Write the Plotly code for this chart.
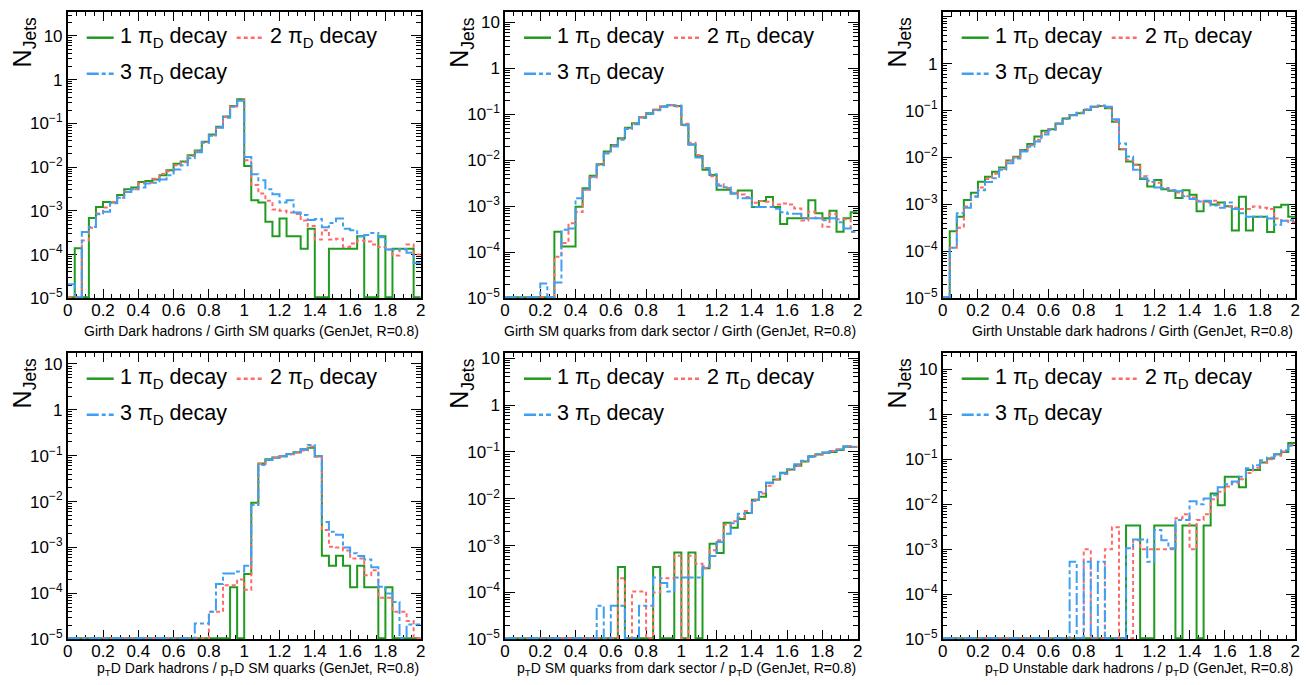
import numpy as np
import plotly.graph_objects as go

# ---------------- data (normalised jet fractions per bin, 50 bins in [0, 2]) ----------------
bin_edges = np.linspace(0.0, 2.0, 51)

series_names = ["1 π<sub>D</sub> decay", "2 π<sub>D</sub> decay", "3 π<sub>D</sub> decay"]

x_titles = [
    "Girth Dark hadrons / Girth SM quarks (GenJet, R=0.8)",
    "Girth SM quarks from dark sector / Girth (GenJet, R=0.8)",
    "Girth Unstable dark hadrons / Girth (GenJet, R=0.8)",
    "p<sub>T</sub>D Dark hadrons / p<sub>T</sub>D SM quarks (GenJet, R=0.8)",
    "p<sub>T</sub>D SM quarks from dark sector / p<sub>T</sub>D (GenJet, R=0.8)",
    "p<sub>T</sub>D Unstable dark hadrons / p<sub>T</sub>D (GenJet, R=0.8)",
]

x_tick_vals = [0, 0.2, 0.4, 0.6, 0.8, 1.0, 1.2, 1.4, 1.6, 1.8, 2.0]
x_tick_text = ["0", "0.2", "0.4", "0.6", "0.8", "1", "1.2", "1.4", "1.6", "1.8", "2"]
y_tick_vals = [1e-5, 1e-4, 1e-3, 1e-2, 1e-1, 1, 10]
y_tick_text = ["10<sup>−5</sup>", "10<sup>−4</sup>", "10<sup>−3</sup>", "10<sup>−2</sup>",
               "10<sup>−1</sup>", "1", "10"]

# Panel 1: Girth Dark hadrons / Girth SM quarks
girth_dh_1pi = [0, 1.4e-4, 0, 6.9e-4, 1.23e-3, 1.6e-3, 1.55e-3, 2.3e-3, 3.1e-3, 3.4e-3,
                4.6e-3, 4.8e-3, 5.2e-3, 6.5e-3, 8.5e-3, 1.2e-2, 1.35e-2, 1.87e-2, 2.4e-2, 3.8e-2,
                5.6e-2, 8.4e-2, 0.143, 0.25, 0.355, 1.06e-2, 1.75e-3, 1.55e-3, 5.6e-4, 2.64e-4,
                6.7e-4, 2.64e-4, 2.64e-4, 1.36e-4, 3.9e-4, 0, 0, 1.36e-4, 1.36e-4, 1.36e-4,
                1.36e-4, 2.64e-4, 0, 0, 2.64e-4, 0, 1.36e-4, 1.36e-4, 1.36e-4, 0]
girth_dh_2pi = [0, 0, 2.1e-4, 4.1e-4, 8.7e-4, 1.2e-3, 1.6e-3, 2.0e-3, 2.75e-3, 3.1e-3,
                4.2e-3, 4.4e-3, 5.4e-3, 7.0e-3, 8.0e-3, 1.1e-2, 1.3e-2, 1.8e-2, 2.3e-2, 3.7e-2,
                5.3e-2, 8.2e-2, 0.14, 0.245, 0.34, 1.44e-2, 3.9e-3, 2.5e-3, 1.7e-3, 1.07e-3,
                1.0e-3, 9.2e-4, 8.5e-4, 6.0e-4, 4.5e-4, 2.2e-4, 3.6e-4, 2.2e-4, 2.3e-4, 1.5e-4,
                1.8e-4, 2.1e-4, 2.0e-4, 1.7e-4, 1.5e-4, 1.3e-4, 9.5e-5, 1.3e-4, 1.7e-4, 1.0e-4]
girth_dh_3pi = [2.1e-5, 0, 3.3e-4, 4.3e-4, 8.4e-4, 9.5e-4, 1.5e-3, 2.0e-3, 2.7e-3, 3.1e-3,
                3.4e-3, 4.2e-3, 4.4e-3, 5.2e-3, 6.5e-3, 8.8e-3, 1.1e-2, 1.6e-2, 2.2e-2, 3.6e-2,
                5.2e-2, 8.0e-2, 0.135, 0.24, 0.33, 1.7e-2, 6.9e-3, 5.0e-3, 3.1e-3, 2.4e-3,
                1.55e-3, 1.75e-3, 9.2e-4, 8.0e-4, 6.2e-4, 6.5e-4, 4.2e-4, 5.3e-4, 6.7e-4, 3.9e-4,
                3.6e-4, 2.64e-4, 2.8e-4, 3.1e-4, 2.5e-4, 1.3e-4, 1.3e-4, 1.35e-4, 1.1e-4, 6.4e-5]

# Panel 2: Girth SM quarks from dark sector / Girth
girth_smq_1pi = [0, 0, 0, 0, 0, 0, 0, 2.8e-4, 1.33e-4, 1.33e-4,
                 9.8e-4, 2.46e-3, 4.6e-3, 8.2e-3, 1.55e-2, 2.16e-2, 3.0e-2, 5.1e-2, 6.4e-2, 8.6e-2,
                 0.105, 0.125, 0.147, 0.158, 0.152, 5.9e-2, 2.2e-2, 1.24e-2, 6.2e-3, 4.8e-3,
                 2.3e-3, 2.3e-3, 1.9e-3, 2.2e-3, 2.2e-3, 9.6e-4, 1.3e-3, 1.6e-3, 9.6e-4, 4.1e-4,
                 5.5e-4, 5.5e-4, 5.5e-4, 1.35e-3, 7.1e-4, 5.5e-4, 8.0e-4, 2.8e-4, 5.5e-4, 7.4e-4]
girth_smq_2pi = [0, 0, 0, 0, 0, 0, 0, 8e-5, 1.6e-4, 4.3e-4,
                 7.5e-4, 2.3e-3, 4.2e-3, 8.0e-3, 1.45e-2, 2.1e-2, 2.9e-2, 4.9e-2, 6.3e-2, 8.5e-2,
                 0.103, 0.125, 0.15, 0.16, 0.148, 6.2e-2, 2.4e-2, 1.3e-2, 6.8e-3, 4.5e-3,
                 3.0e-3, 2.5e-3, 2.0e-3, 1.8e-3, 1.6e-3, 1.2e-3, 1.3e-3, 1.25e-3, 1.1e-3, 1.15e-3,
                 1.1e-3, 9.0e-4, 4.9e-4, 7.6e-4, 5.5e-4, 3.6e-4, 6.9e-4, 5.2e-4, 5.2e-4, 2.8e-4]
girth_smq_3pi = [0, 0, 0, 0, 0, 2.1e-5, 0, 2.2e-5, 3.1e-4, 3.3e-4,
                 1.5e-3, 2.3e-3, 4.4e-3, 7.8e-3, 1.4e-2, 2.0e-2, 2.8e-2, 4.8e-2, 6.1e-2, 8.3e-2,
                 0.102, 0.122, 0.145, 0.16, 0.155, 5.8e-2, 2.2e-2, 1.15e-2, 6.8e-3, 5.0e-3,
                 2.8e-3, 2.6e-3, 1.9e-3, 1.5e-3, 1.5e-3, 9.6e-4, 9.6e-4, 9.6e-4, 8.8e-4, 7.4e-4,
                 6.9e-4, 6.9e-4, 5.5e-4, 5.5e-4, 5.5e-4, 5.0e-4, 5.5e-4, 4.5e-4, 3.3e-4, 2.8e-4]

# Panel 3: Girth Unstable dark hadrons / Girth
girth_udh_1pi = [0, 2.7e-4, 5.5e-4, 1.24e-3, 1.78e-3, 3.06e-3, 3.9e-3, 5.0e-3, 6.1e-3, 8.6e-3,
                 1.04e-2, 1.45e-2, 1.95e-2, 2.8e-2, 3.7e-2, 4.0e-2, 5.3e-2, 6.8e-2, 8.1e-2, 8.8e-2,
                 0.103, 0.12, 0.125, 0.112, 5.8e-2, 1.5e-2, 8.2e-3, 7.0e-3, 3.5e-3, 2.4e-3,
                 3.3e-3, 2.1e-3, 1.95e-3, 1.38e-3, 2.0e-3, 1.6e-3, 7.2e-4, 1.15e-3, 1.0e-3, 1.1e-3,
                 9.2e-4, 2.8e-4, 1.45e-3, 2.8e-4, 5.5e-4, 5.5e-4, 2.6e-4, 8.7e-4, 9.8e-4, 5.5e-4]
girth_udh_2pi = [0, 1.2e-4, 3.2e-4, 9.0e-4, 1.5e-3, 2.3e-3, 3.5e-3, 4.5e-3, 5.7e-3, 8.5e-3,
                 1.0e-2, 1.4e-2, 1.8e-2, 2.4e-2, 3.4e-2, 4.0e-2, 5.3e-2, 6.8e-2, 8.0e-2, 9.0e-2,
                 0.105, 0.12, 0.125, 0.115, 6.0e-2, 1.5e-2, 9.0e-3, 7.0e-3, 4.0e-3, 3.0e-3,
                 2.9e-3, 2.2e-3, 2.0e-3, 1.8e-3, 1.5e-3, 1.4e-3, 1.2e-3, 1.1e-3, 1.2e-3, 1.0e-3,
                 9.0e-4, 8.5e-4, 8.0e-4, 8.0e-4, 9.0e-4, 8.5e-4, 8.0e-4, 5.0e-4, 4.5e-4, 4.2e-4]
girth_udh_3pi = [0, 1.2e-4, 6.5e-4, 8.5e-4, 1.45e-3, 2.0e-3, 3.0e-3, 3.6e-3, 5.5e-3, 7.5e-3,
                 9.5e-3, 1.35e-2, 1.7e-2, 2.2e-2, 3.1e-2, 3.9e-2, 5.2e-2, 6.7e-2, 8.0e-2, 9.0e-2,
                 0.105, 0.12, 0.128, 0.12, 6.5e-2, 2.0e-2, 1.05e-2, 5.5e-3, 3.6e-3, 3.2e-3,
                 2.3e-3, 2.2e-3, 2.0e-3, 1.9e-3, 1.5e-3, 1.3e-3, 1.15e-3, 1.2e-3, 9.5e-4, 8.5e-4,
                 1.1e-3, 8.0e-4, 6.5e-4, 5.5e-4, 5.5e-4, 5.5e-4, 5.0e-4, 3.7e-4, 4.5e-4, 4.6e-4]

# Panel 4: pTD Dark hadrons / pTD SM quarks
ptd_dh_1pi = [0, 0, 0, 0, 0, 0, 0, 0, 0, 0,
              0, 0, 0, 0, 0, 0, 0, 0, 0, 0,
              0, 0, 0, 1.36e-4, 0, 2.65e-4, 9.5e-3, 6.8e-2, 8.4e-2, 9.2e-2,
              9.8e-2, 0.109, 0.12, 0.135, 0.15, 9.8e-2, 6.6e-4, 4.0e-4, 6.6e-4, 4.0e-4,
              1.36e-4, 4.0e-4, 1.36e-4, 1.36e-4, 0, 1.36e-4, 0, 0, 0, 0]
ptd_dh_2pi = [0, 0, 0, 0, 0, 0, 0, 0, 0, 0,
              0, 0, 0, 0, 0, 0, 0, 0, 0, 0,
              4.0e-5, 4.0e-5, 1.5e-4, 1.5e-4, 2.0e-4, 1.2e-4, 8.4e-3, 6.6e-2, 8.2e-2, 9.1e-2,
              9.8e-2, 0.108, 0.118, 0.13, 0.16, 9.5e-2, 2.4e-3, 1.04e-3, 1.0e-3, 8.6e-4,
              5.8e-4, 5.8e-4, 2.5e-4, 3.2e-4, 8e-5, 8e-5, 4e-5, 4e-5, 2.5e-5, 0]
ptd_dh_3pi = [0, 0, 0, 0, 0, 0, 0, 0, 0, 0,
              0, 0, 0, 0, 0, 0, 0, 0, 2.2e-5, 2.2e-5,
              4.0e-5, 1.6e-4, 2.7e-4, 2.7e-4, 3.0e-4, 4.0e-4, 8.4e-3, 6.3e-2, 8.1e-2, 9.0e-2,
              9.8e-2, 0.108, 0.118, 0.14, 0.171, 9.8e-2, 3.6e-3, 2.2e-3, 1.9e-3, 1.0e-3,
              7.5e-4, 6.5e-4, 5.5e-4, 3.7e-4, 1.4e-4, 1.0e-4, 6.5e-5, 0, 2.1e-5, 2.1e-5]

# Panel 5: pTD SM quarks from dark sector / pTD
ptd_smq_1pi = [0, 0, 0, 0, 0, 0, 0, 0, 0, 0,
               0, 0, 0, 0, 0, 0, 3.5e-4, 0, 0, 0,
               0, 3.5e-4, 0, 0, 7.1e-4, 0, 7.1e-4, 0, 3.3e-4, 1.1e-3,
               7.0e-4, 3.1e-3, 2.4e-3, 3.7e-3, 5.0e-3, 9.6e-3, 1.1e-2, 2.2e-2, 2.6e-2, 3.6e-2,
               4.2e-2, 5.1e-2, 6.3e-2, 8.1e-2, 8.8e-2, 9.6e-2, 0.1, 0.11, 0.13, 0.128]
ptd_smq_2pi = [0, 0, 0, 0, 0, 0, 0, 0, 0, 0,
               0, 0, 0, 0, 0, 0, 2.0e-4, 0, 1.05e-4, 1.05e-4,
               0, 1.0e-4, 2.0e-4, 2.0e-4, 6.1e-4, 0, 6.1e-4, 4.1e-4, 3.3e-4, 8e-4,
               1.3e-3, 2.8e-3, 3.3e-3, 4.0e-3, 5.5e-3, 9.5e-3, 1.3e-2, 1.9e-2, 2.6e-2, 3.4e-2,
               4.1e-2, 5.0e-2, 6.4e-2, 7.8e-2, 8.8e-2, 9.6e-2, 0.105, 0.115, 0.135, 0.13]
ptd_smq_3pi = [0, 0, 0, 0, 0, 0, 0, 0, 0, 0,
               0, 0, 0, 5.2e-5, 0, 5.2e-5, 5.2e-5, 0, 0, 5.2e-5,
               5.2e-5, 2.1e-4, 1.6e-4, 1.05e-4, 2.1e-4, 2.1e-4, 2.1e-4, 2.1e-4, 3.6e-4, 6.0e-4,
               1.2e-3, 1.8e-3, 3.0e-3, 4.8e-3, 5.0e-3, 9.0e-3, 1.4e-2, 2.2e-2, 3.0e-2, 3.5e-2,
               4.3e-2, 5.5e-2, 6.5e-2, 7.9e-2, 9.0e-2, 9.8e-2, 0.105, 0.115, 0.133, 0.128]

# Panel 6: pTD Unstable dark hadrons / pTD
ptd_udh_1pi = [0, 0, 0, 0, 0, 0, 0, 0, 0, 0,
               0, 0, 0, 0, 0, 0, 0, 0, 0, 0,
               0, 0, 0, 0, 0, 0, 3.4e-3, 3.4e-3, 0, 0,
               3.4e-3, 3.4e-3, 3.4e-3, 0, 3.4e-3, 3.4e-3, 0, 3.4e-3, 1.75e-2, 9.5e-3,
               4.1e-2, 4.1e-2, 2.4e-2, 5.8e-2, 5.8e-2, 8.5e-2, 0.105, 0.13, 0.145, 0.23]
ptd_udh_2pi = [0, 0, 0, 0, 0, 0, 0, 0, 0, 0,
               0, 0, 0, 0, 0, 0, 0, 0, 0, 0,
               1.0e-3, 0, 0, 1.0e-3, 3.1e-3, 0, 0, 1.6e-3, 1.0e-3, 1.0e-3,
               1.0e-3, 1.0e-3, 1.0e-3, 4.9e-3, 6.0e-3, 1.0e-3, 4.5e-3, 6.0e-3, 1.3e-2, 1.9e-2,
               2.5e-2, 3.0e-2, 3.6e-2, 5.0e-2, 6.5e-2, 8.5e-2, 0.1, 0.12, 0.15, 0.21]
ptd_udh_3pi = [0, 0, 0, 0, 0, 0, 0, 0, 0, 0,
               0, 0, 0, 0, 0, 0, 0, 0, 5.3e-4, 0,
               5.3e-4, 0, 5.3e-4, 0, 0, 0, 1.05e-3, 1.66e-3, 1.66e-3, 5.3e-4,
               2.7e-3, 1.6e-3, 1.05e-3, 4.5e-3, 4.5e-3, 1.17e-2, 1.0e-2, 1.35e-2, 1.6e-2, 2.4e-2,
               2.8e-2, 3.2e-2, 4.1e-2, 6.3e-2, 7.4e-2, 9.6e-2, 0.11, 0.13, 0.16, 0.2]

panels = [
    (girth_dh_1pi, girth_dh_2pi, girth_dh_3pi),
    (girth_smq_1pi, girth_smq_2pi, girth_smq_3pi),
    (girth_udh_1pi, girth_udh_2pi, girth_udh_3pi),
    (ptd_dh_1pi, ptd_dh_2pi, ptd_dh_3pi),
    (ptd_smq_1pi, ptd_smq_2pi, ptd_smq_3pi),
    (ptd_udh_1pi, ptd_udh_2pi, ptd_udh_3pi),
]

# ---------------- style ----------------
# The page body keeps the browser's default 8 px margin, so the figure is
# 16 px smaller than the window and every position is shifted by 8 px.
PAGE_MARGIN = 8
W, H = 1311 - 2 * PAGE_MARGIN, 685 - 2 * PAGE_MARGIN
colors = ["#1f9b1f", "#ff6a6a", "#3f9ff2"]
dashes = ["solid", "4px,3px", "12px,3px,4px,3px"]
FLOOR = 1.05e-5  # zero bins drawn on the lower frame, as ROOT does
y_top_log = [1.555, 1.23, 1.107, 1.246, 1.12, 1.37]

# frame positions in window pixels
col_x = [(67.7, 420.7), (505.0, 857.7), (942.7, 1295.3)]
row_y = [(11.7, 298.3), (352.7, 639.3)]
title_dy = [33, 30]


def px(xw):
    return (xw - PAGE_MARGIN) / W


def py(yw):
    return 1 - (yw - PAGE_MARGIN) / H


FONT = "Liberation Sans, Arial, Helvetica, sans-serif"

minor_x = [v for v in np.round(np.arange(0, 2.0001, 0.05), 3) if abs(v / 0.2 - round(v / 0.2)) > 1e-6]
minor_y = [d * 10.0 ** e for e in range(-5, 2) for d in range(2, 10)]

fig = go.Figure()
layout = dict(
    width=W, height=H, margin=dict(l=0, r=0, t=0, b=0, autoexpand=False),
    paper_bgcolor="white", plot_bgcolor="white", showlegend=False,
)
annotations = []
shapes = []

for k, panel in enumerate(panels):
    sfx = "" if k == 0 else str(k + 1)
    r, c = divmod(k, 3)
    for s, vals in enumerate(panel):
        yv = [max(v, FLOOR) for v in vals]
        yv = yv + [yv[-1]]
        fig.add_trace(go.Scatter(
            x=bin_edges, y=yv, mode="lines", name=series_names[s],
            line=dict(shape="hv", color=colors[s], width=2, dash=dashes[s]),
            xaxis="x" + sfx, yaxis="y" + sfx, hoverinfo="skip",
        ))
    x0, x1 = col_x[c]
    y0, y1 = row_y[r]
    layout["xaxis" + sfx] = dict(
        domain=[px(x0), px(x1)], anchor="y" + sfx, range=[0, 2], automargin=False,
        tickmode="array", tickvals=x_tick_vals, ticktext=x_tick_text,
        ticks="inside", ticklen=10, tickwidth=1, tickcolor="black",
        ticklabelstandoff=-4,
        minor=dict(ticks="inside", ticklen=5, tickwidth=1, tickcolor="black",
                   tickmode="array", tickvals=minor_x),
        showline=True, linecolor="black", linewidth=1.5, mirror="ticks",
        showgrid=False, zeroline=False, layer="below traces",
        tickfont=dict(family=FONT, size=17, color="black"),
    )
    layout["yaxis" + sfx] = dict(
        domain=[py(y1), py(y0)], anchor="x" + sfx, type="log", automargin=False,
        range=[-5, y_top_log[k]],
        tickmode="array", tickvals=y_tick_vals, ticktext=y_tick_text,
        ticks="inside", ticklen=10, tickwidth=1, tickcolor="black",
        minor=dict(ticks="inside", ticklen=5, tickwidth=1, tickcolor="black",
                   tickmode="array", tickvals=minor_y),
        showline=True, linecolor="black", linewidth=1.5, mirror="ticks",
        showgrid=False, zeroline=False, layer="below traces",
        tickfont=dict(family=FONT, size=17, color="black"),
    )
    # x-axis title, right aligned at the end of the axis
    annotations.append(dict(
        text=x_titles[k], xref="paper", yref="paper",
        x=px(x1), y=py(y1 + title_dy[r]), xanchor="right", yanchor="middle",
        showarrow=False, font=dict(family=FONT, size=14, color="black"),
    ))
    # y-axis title
    annotations.append(dict(
        text="N<sub>Jets</sub>", xref="paper", yref="paper", textangle=-90,
        x=px(x0 - 44), y=py(y0 + 31), xanchor="center", yanchor="middle",
        showarrow=False, font=dict(family=FONT, size=25, color="black"),
    ))
    # legend (two columns)
    leg_pos = [(19, 26), (169, 26), (19, 62)]
    for s, (dx, dy) in enumerate(leg_pos):
        yy = py(y0 + dy)
        shapes.append(dict(
            type="line", xref="paper", yref="paper",
            x0=px(x0 + dx), x1=px(x0 + dx + 27), y0=yy, y1=yy,
            line=dict(color=colors[s], width=2.5, dash=dashes[s]),
        ))
        annotations.append(dict(
            text=series_names[s], xref="paper", yref="paper",
            x=px(x0 + dx + 31), y=yy, xanchor="left", yanchor="middle",
            showarrow=False, font=dict(family=FONT, size=21.5, color="black"),
        ))

layout["annotations"] = annotations
layout["shapes"] = shapes
fig.update_layout(**layout)
fig.write_html("out.html")
